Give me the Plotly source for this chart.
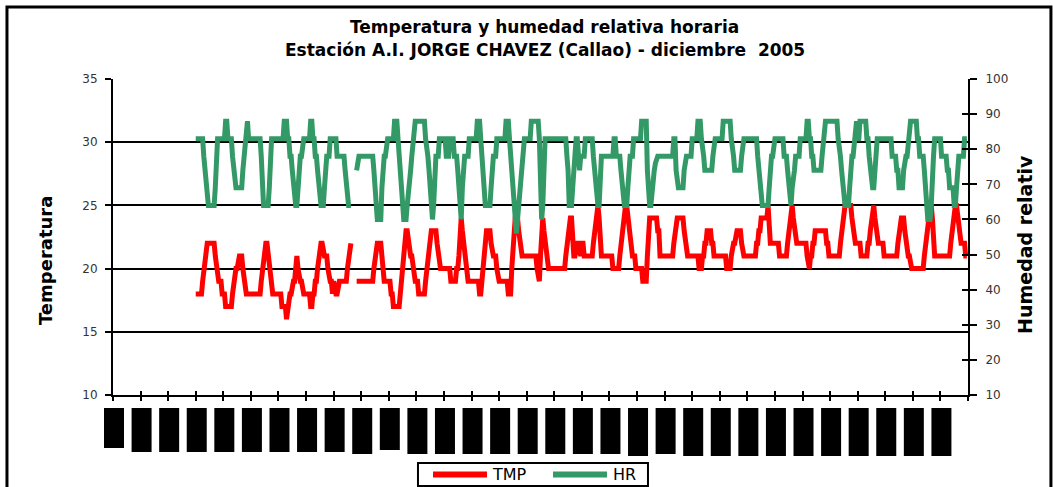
import plotly.graph_objects as go

# ---------------- data (hourly, December 2005) ----------------
# hour index 0 = 1 Dec 00h ; first 72 hours have no data
start_hour = 72
day_ticks = list(range(0, 745, 24))
dias = [f"{d:02d}/12/2005" for d in range(1, 32)]
series_names = ["TMP", "HR"]

# Temperatura (°C), one line per day (day 4 .. day 31)
temperatura = [
    18,18,18,18,18,18,19,20,21,22,22,22,22,22,22,22,22,21,20,19,19,19,19,18,
    18,18,17,17,17,17,17,17,18,19,19,20,20,21,21,21,21,20,19,18,18,18,18,18,
    18,18,18,18,18,18,18,18,18,19,20,21,21,22,22,21,20,19,19,18,18,18,18,18,
    18,18,18,17,17,17,17,16,17,17,18,18,19,19,19,20,21,20,19,19,19,18,18,18,
    18,18,18,18,17,17,18,18,19,19,20,21,21,22,22,21,21,21,21,20,19,19,19,18,
    19,18,18,18,19,19,19,19,19,19,19,19,20,21,22,22,None,None,None,None,19,19,19,19,
    19,19,19,19,19,19,19,19,19,19,19,20,21,22,22,22,22,22,21,19,19,19,19,19,
    19,19,18,18,17,17,17,17,17,17,18,19,20,22,23,23,23,22,21,21,21,20,19,19,
    19,19,18,18,18,18,18,18,19,20,21,22,22,23,23,23,23,23,22,21,21,20,20,20,
    20,20,20,20,20,20,19,19,19,19,19,20,20,21,24,24,23,22,21,21,20,19,19,19,
    19,19,19,19,19,19,19,18,18,19,20,21,23,23,23,23,23,22,21,21,21,21,20,19,
    19,19,19,19,19,19,19,19,18,18,18,20,22,23,24,24,24,23,22,21,21,21,21,21,
    21,21,21,21,21,21,21,21,21,20,19,19,21,24,24,23,22,21,20,20,20,20,20,20,
    20,20,20,20,20,20,20,20,20,20,21,22,23,24,24,24,21,21,21,22,22,22,21,21,
    22,22,21,21,21,21,21,21,21,21,22,23,24,25,25,24,22,21,21,21,21,21,21,21,
    21,21,21,20,20,20,20,20,20,21,22,23,24,25,25,25,24,23,22,21,21,21,21,20,
    20,20,20,20,20,19,19,19,19,21,23,24,24,24,24,24,24,24,23,23,21,21,21,21,
    21,21,21,21,21,21,21,21,22,23,24,24,24,24,24,24,24,23,22,21,21,21,21,21,
    21,21,21,21,21,21,20,20,20,21,21,22,22,23,23,23,23,22,22,21,21,21,21,21,
    21,21,21,21,21,21,20,20,20,20,21,22,22,22,23,23,23,23,23,22,21,21,21,21,
    21,21,21,21,21,21,21,21,22,22,23,23,24,24,24,24,24,24,25,23,22,22,22,22,
    22,22,22,22,21,21,21,21,21,21,21,22,23,24,25,25,24,23,22,22,22,22,22,22,
    22,22,22,22,21,20,20,21,21,22,22,23,23,23,23,23,23,23,23,23,23,22,22,21,
    21,21,21,21,21,21,21,21,21,22,23,24,24,25,25,25,25,25,25,24,23,23,22,22,
    22,22,22,21,21,21,21,21,21,22,22,23,24,25,25,24,23,22,22,22,22,22,22,21,
    21,21,21,21,21,21,21,21,21,21,21,22,23,24,24,24,24,23,22,22,21,21,20,20,
    20,20,20,20,20,20,20,20,20,20,21,22,22,23,24,24,25,24,22,21,21,21,21,21,
    21,21,21,21,21,21,21,21,21,22,23,24,24,25,25,24,23,22,22,22,22,22,21,21,
]

# Humedad relativa (%), one line per day (day 4 .. day 31)
humedad = [
    83,83,83,83,83,83,83,78,74,69,64,64,64,64,64,64,64,69,78,83,83,83,83,83,
    83,83,88,88,83,83,83,83,78,74,69,69,69,69,69,69,69,74,78,83,83,88,83,83,
    83,83,83,83,83,83,83,83,83,78,69,64,64,64,64,64,69,78,83,83,83,83,83,83,
    83,83,83,83,83,88,88,88,83,83,78,78,74,69,69,64,64,69,74,78,78,83,83,83,
    83,83,83,83,88,88,83,83,78,78,74,69,64,64,64,64,69,74,78,78,78,83,83,83,
    83,83,83,78,78,78,78,78,78,78,74,69,64,64,64,64,None,None,None,None,74,78,78,78,
    78,78,78,78,78,78,78,78,78,78,78,74,69,64,60,60,60,60,69,74,78,78,83,83,
    83,83,83,83,83,88,88,88,83,78,74,69,64,60,60,60,64,69,69,74,78,83,83,88,
    88,88,88,88,88,88,88,88,83,78,78,74,69,64,60,64,74,78,78,78,83,83,83,83,
    83,83,78,78,78,83,83,83,83,78,78,78,74,69,60,60,69,74,78,78,78,78,83,83,
    83,83,83,83,83,88,88,88,83,78,74,69,64,64,64,64,64,69,74,78,78,78,83,83,
    83,83,83,83,83,83,88,88,88,83,78,74,69,64,60,56,60,64,69,74,78,83,83,83,
    83,83,83,83,88,88,88,88,88,88,88,83,74,60,64,78,83,83,83,83,83,83,83,83,
    83,83,83,83,83,83,83,83,83,83,83,78,74,64,64,64,69,74,78,83,83,78,74,78,
    78,78,78,83,83,83,83,83,83,83,78,74,69,64,64,64,74,78,78,78,78,78,78,78,
    78,78,78,78,83,83,78,78,78,78,74,69,64,64,64,64,69,74,78,78,78,83,83,83,
    83,83,83,83,88,88,88,88,88,74,64,64,64,69,74,74,76,78,78,78,78,78,78,78,
    78,78,78,78,78,78,78,78,83,83,74,69,69,69,69,69,69,74,78,78,78,78,78,78,
    83,83,83,83,83,88,88,88,83,78,78,74,74,74,74,74,74,74,78,83,83,83,83,83,
    83,83,83,88,88,88,88,88,88,88,83,78,78,74,74,74,74,74,74,78,83,83,83,83,
    83,83,83,83,83,83,83,83,83,78,74,69,64,64,64,64,64,64,64,69,74,78,78,83,
    83,83,83,83,83,83,83,83,78,78,78,74,69,64,64,69,74,74,78,78,78,78,83,83,
    83,83,83,83,88,88,83,83,78,78,74,74,74,74,74,74,74,78,83,83,88,88,88,88,
    88,88,88,88,88,88,88,83,78,78,74,69,69,64,64,64,64,69,74,78,78,83,83,88,
    83,83,88,88,88,88,88,88,83,83,78,74,69,69,69,74,78,83,83,83,83,83,83,83,
    83,83,83,83,83,83,78,78,78,78,74,74,69,69,69,69,74,78,78,78,83,83,88,88,
    88,88,88,88,83,83,78,78,78,78,74,69,64,60,60,60,64,74,78,83,83,83,83,83,
    83,78,78,78,78,78,74,74,69,69,69,69,64,64,69,74,78,78,78,78,78,83,83,83,
]

horas = list(range(start_hour, start_hour + len(temperatura)))

# ---------------- styling constants ----------------
RED = "#FF0000"
GREEN = "#339966"
FONT = "DejaVu Sans"
X_RANGE = [0, 744]
# pixel heights of the (black) date-label blocks under each day tick
label_block_px = [40, 44, 44, 44, 44, 44, 44, 44, 44, 46, 42, 46, 46, 46, 46, 46,
                  46, 46, 46, 48, 46, 48, 48, 48, 48, 48, 48, 48, 48, 48, 48]

fig = go.Figure()
fig.add_trace(go.Scatter(x=horas, y=humedad, name=series_names[1], yaxis="y2", mode="lines",
                         line=dict(color=GREEN, width=5), connectgaps=False,
                         showlegend=False, hoverinfo="skip"))
fig.add_trace(go.Scatter(x=horas, y=temperatura, name=series_names[0], mode="lines",
                         line=dict(color=RED, width=5), connectgaps=False,
                         showlegend=False, hoverinfo="skip"))
# empty helper trace so the tick-only overlay axes get drawn
fig.add_trace(go.Scatter(x=[], y=[], xaxis="x2", yaxis="y3", showlegend=False,
                         hoverinfo="skip"))

shapes = []
span = X_RANGE[1] - X_RANGE[0]
for k, h in enumerate(label_block_px):
    shapes.append(dict(type="rect", xref="paper", yref="paper", xsizemode="pixel",
                       ysizemode="pixel", xanchor=(day_ticks[k] - X_RANGE[0]) / span,
                       yanchor=0, x0=-9, x1=11, y0=-13, y1=-13 - h,
                       fillcolor="black", line=dict(width=0)))
# outer chart frame
shapes.append(dict(type="rect", xref="paper", yref="paper", x0=-0.124, x1=1.097,
                   y0=-0.32, y1=1.228, line=dict(color="black", width=3),
                   fillcolor="rgba(0,0,0,0)"))

# legend box (Excel style) with line samples
LEG_Y = -0.2516
shapes.append(dict(type="rect", xref="paper", yref="paper", x0=0.3567, x1=0.6257,
                   y0=-0.288, y1=-0.2152, line=dict(color="black", width=2),
                   fillcolor="white"))
legend_items = [(series_names[0], RED, 0.3743, 0.4374, 0.4409),
                (series_names[1], GREEN, 0.5146, 0.5778, 0.5825)]

annotations = [
    dict(text="<b>Temperatura y humedad relativa horaria</b>", xref="paper", yref="paper",
         x=0.505, y=1.163, xanchor="center", yanchor="middle", showarrow=False,
         font=dict(family=FONT, size=17, color="black")),
    dict(text="<b>Estación A.I. JORGE CHAVEZ (Callao) - diciembre  2005</b>", xref="paper",
         yref="paper", x=0.505, y=1.093, xanchor="center", yanchor="middle", showarrow=False,
         font=dict(family=FONT, size=17, color="black")),
    dict(text="<b>Temperatura</b>", xref="paper", yref="paper", x=-0.0795, y=0.424,
         xanchor="center", yanchor="middle",
         textangle=-90, showarrow=False, font=dict(family=FONT, size=18, color="black")),
    dict(text="<b>Humedad relativ</b>", xref="paper", yref="paper", x=1.0667, y=0.475,
         xanchor="center", yanchor="middle",
         textangle=-90, showarrow=False, font=dict(family=FONT, size=19, color="black")),
]
for name, color, lx0, lx1, tx in legend_items:
    shapes.append(dict(type="line", xref="paper", yref="paper", x0=lx0, x1=lx1,
                       y0=LEG_Y, y1=LEG_Y, line=dict(color=color, width=6)))
    annotations.append(dict(text=name, xref="paper", yref="paper", x=tx, y=LEG_Y,
                            xanchor="left", yanchor="middle", showarrow=False,
                            font=dict(family=FONT, size=16, color="black")))

tickfont = dict(family=FONT, size=12, color="#333333")
fig.update_layout(
    width=1053, height=487,
    margin=dict(l=113, r=85, t=79, b=92, autoexpand=False),
    paper_bgcolor="white", plot_bgcolor="white",
    showlegend=False,
    xaxis=dict(range=X_RANGE, tickmode="array", tickvals=day_ticks, showticklabels=False,
               ticks="outside", ticklen=4, tickwidth=2, tickcolor="black",
               showline=True, linecolor="black", linewidth=2, showgrid=False, zeroline=False),
    xaxis2=dict(range=X_RANGE, overlaying="x", anchor="y", side="bottom", tickmode="array",
                tickvals=day_ticks, showticklabels=False, ticks="inside", ticklen=4,
                tickwidth=2, tickcolor="black", showline=False, showgrid=False, zeroline=False),
    yaxis=dict(range=[10, 35], tick0=10, dtick=5, ticks="outside", ticklen=6, tickwidth=2,
               tickcolor="black", showline=True, linecolor="black", linewidth=2,
               showgrid=True, gridcolor="black", gridwidth=2, zeroline=False,
               tickfont=tickfont, ticklabelstandoff=5),
    yaxis2=dict(range=[10, 100], tick0=10, dtick=10, overlaying="y", side="right", anchor="x",
                ticks="outside", ticklen=7, tickwidth=2, tickcolor="black", showline=True,
                linecolor="black", linewidth=2, showgrid=False, zeroline=False,
                tickfont=tickfont, ticklabelstandoff=6),
    yaxis3=dict(range=[10, 100], tick0=10, dtick=10, overlaying="y", side="right", anchor="x2",
                ticks="inside", ticklen=6, tickwidth=2, tickcolor="black", showline=False,
                showgrid=False, zeroline=False, showticklabels=False),
    shapes=shapes,
    annotations=annotations,
)

# remove the browser's default 8px body margin so the figure sits at the page corner
fig.write_html("out.html", config={"displayModeBar": False, "staticPlot": True},
               post_script="document.body.style.margin='0';")
